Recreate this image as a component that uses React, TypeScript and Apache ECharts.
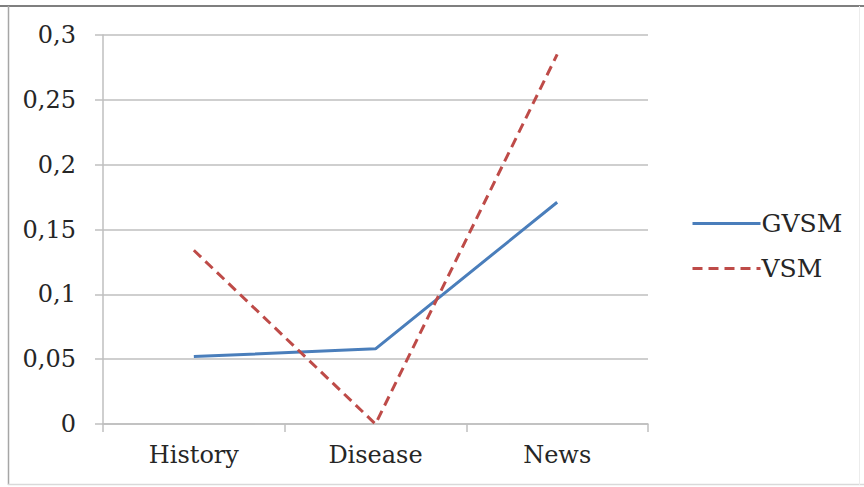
import React, { useEffect, useRef } from "react";
import * as echarts from "echarts";

const categories = ["History", "Disease", "News"];
const gvsmValues = [0.052, 0.058, 0.171];
const vsmValues = [0.134, 0.0, 0.285];
const yTicks = [0, 0.05, 0.1, 0.15, 0.2, 0.25, 0.3];

const FONT = "DejaVu Serif";

export default function App() {
  const ref = useRef<HTMLDivElement>(null);
  useEffect(() => {
    if (!ref.current) return;
    const chart = echarts.init(ref.current, undefined, { renderer: "svg" });
    chart.setOption({
      animation: false,
      backgroundColor: "#ffffff",
      textStyle: { fontFamily: FONT },
      grid: { left: 103, right: 216, top: 35, bottom: 63, containLabel: false },
      legend: {
        orient: "vertical",
        left: 686,
        top: 206,
        itemWidth: 68,
        itemHeight: 14,
        itemGap: 20,
        itemStyle: { opacity: 0 },
        lineStyle: { width: 3 },
        textStyle: { fontFamily: FONT, fontSize: 25, color: "#262626", padding: [0, 0, 0, -4] },
        data: ["GVSM", "VSM"],
      },
      xAxis: {
        type: "category",
        data: categories,
        boundaryGap: true,
        axisLine: { lineStyle: { color: "#bfbfbf", width: 1.5 } },
        axisTick: { show: true, length: 8, lineStyle: { color: "#bfbfbf", width: 1.5 } },
        axisLabel: { fontFamily: FONT, fontSize: 24, color: "#262626", margin: 19 },
      },
      yAxis: {
        type: "value",
        min: yTicks[0],
        max: yTicks[yTicks.length - 1],
        interval: 0.05,
        axisLine: { show: true, lineStyle: { color: "#bfbfbf", width: 1.5 } },
        axisTick: { show: true, length: 8, lineStyle: { color: "#bfbfbf", width: 1.5 } },
        splitLine: { show: true, lineStyle: { color: "#bfbfbf", width: 1.5 } },
        axisLabel: {
          fontFamily: FONT,
          fontSize: 24,
          color: "#262626",
          margin: 27,
          formatter: (v: number) => {
            const s = String(Math.round(v * 1000) / 1000);
            return s.replace(".", ",");
          },
        },
      },
      series: [
        {
          name: "GVSM",
          type: "line",
          data: gvsmValues,
          symbol: "none",
          lineStyle: { color: "#4a7ebb", width: 3 },
          itemStyle: { color: "#4a7ebb" },
          z: 3,
        },
        {
          name: "VSM",
          type: "line",
          data: vsmValues,
          symbol: "none",
          lineStyle: { color: "#be4b48", width: 3, type: [10, 6] },
          itemStyle: { color: "#be4b48" },
          z: 4,
        },
      ],
      graphic: [
        { type: "line", shape: { x1: 0, y1: 6, x2: 864, y2: 6 }, style: { stroke: "#7f7f7f", lineWidth: 2 } },
        { type: "line", shape: { x1: 8.5, y1: 6, x2: 8.5, y2: 485 }, style: { stroke: "#a6a6a6", lineWidth: 1.5 } },
        { type: "line", shape: { x1: 8, y1: 484.5, x2: 864, y2: 484.5 }, style: { stroke: "#d9d9d9", lineWidth: 1.5 } },
        { type: "line", shape: { x1: 859.5, y1: 6, x2: 859.5, y2: 485 }, style: { stroke: "#ececec", lineWidth: 1 } },
      ],
    });
    return () => chart.dispose();
  }, []);
  return (
    <div
      ref={ref}
      style={{ position: "absolute", left: 0, top: 0, width: 864, height: 487 }}
    />
  );
}
